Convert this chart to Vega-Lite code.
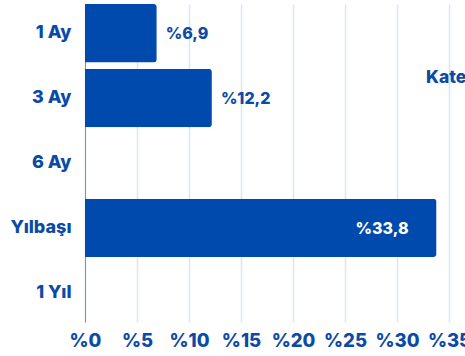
{
  "$schema": "https://vega.github.io/schema/vega-lite/v6.json",
  "width": 364,
  "height": 318,
  "autosize": {"type": "none"},
  "padding": {"left": 85, "top": 4, "right": 20, "bottom": 34},
  "background": "white",
  "data": {
    "values": [
      {"donem": "1 Ay", "deger": 6.9, "etiket": "%6,9", "kategori": "Getiri"},
      {"donem": "3 Ay", "deger": 12.2, "etiket": "%12,2", "kategori": "Getiri"},
      {"donem": "6 Ay", "deger": null, "etiket": "", "kategori": "Getiri"},
      {"donem": "Yılbaşı", "deger": 33.8, "etiket": "%33,8", "kategori": "Getiri"},
      {"donem": "1 Yıl", "deger": null, "etiket": "", "kategori": "Getiri"}
    ]
  },
  "config": {
    "font": "Inter",
    "view": {"stroke": null},
    "axis": {"labelFont": "Inter", "labelFontWeight": 800, "labelColor": "#0b4aa6"}
  },
  "encoding": {
    "y": {
      "field": "donem",
      "type": "nominal",
      "sort": ["1 Ay", "3 Ay", "6 Ay", "Yılbaşı", "1 Yıl"],
      "scale": {"paddingInner": 0.1, "paddingOuter": 0},
      "axis": {
        "title": null,
        "ticks": false,
        "domain": true,
        "domainColor": "#6f93cf",
        "domainWidth": 1,
        "labelFontSize": 18,
        "labelPadding": 14,
        "grid": false
      }
    },
    "x": {
      "field": "deger",
      "type": "quantitative",
      "scale": {"domain": [0, 35], "nice": false},
      "axis": {
        "title": null,
        "values": [0, 5, 10, 15, 20, 25, 30, 35],
        "labelExpr": "'%' + datum.value",
        "ticks": false,
        "domain": false,
        "grid": true,
        "gridColor": "#dbe5f3",
        "gridWidth": 1.5,
        "labelFontSize": 18.5,
        "labelPadding": 9,
        "labelFlush": false
      }
    }
  },
  "layer": [
    {
      "mark": {"type": "bar", "cornerRadiusEnd": 3},
      "encoding": {
        "color": {
          "field": "kategori",
          "type": "nominal",
          "scale": {"range": ["#004aad"]},
          "legend": {
            "title": "Kategori",
            "orient": "none",
            "legendX": 341,
            "legendY": 65,
            "titleFont": "Inter",
            "titleFontSize": 17.5,
            "titleFontWeight": 800,
            "titleColor": "#0b4aa6",
            "symbolOpacity": 0,
            "labelOpacity": 0
          }
        }
      }
    },
    {
      "transform": [{"filter": "datum.deger != null && datum.deger < 30"}],
      "mark": {"type": "text", "align": "left", "baseline": "middle", "dx": 9, "dy": 1, "fontSize": 16, "fontWeight": 800, "color": "#0b4aa6"},
      "encoding": {"text": {"field": "etiket"}}
    },
    {
      "transform": [{"filter": "datum.deger >= 30"}],
      "mark": {"type": "text", "align": "right", "baseline": "middle", "dx": -28, "dy": 1, "fontSize": 16, "fontWeight": 800, "color": "white"},
      "encoding": {"text": {"field": "etiket"}}
    }
  ]
}
